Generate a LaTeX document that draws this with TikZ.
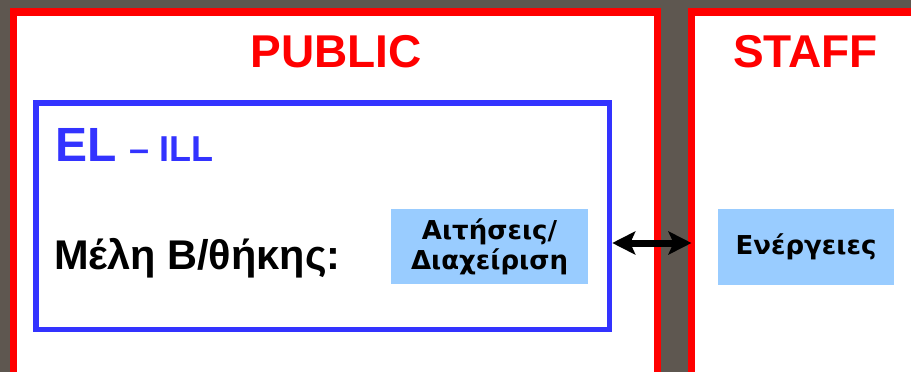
\documentclass[tikz,border=0pt]{standalone}
\usepackage{fontspec}
\setmainfont{Liberation Sans}
\newfontfamily\boxfont{DejaVu Sans}
\usetikzlibrary{arrows.meta}

\definecolor{slidebg}{HTML}{5E5750}
\definecolor{panelred}{HTML}{FF0000}
\definecolor{elblue}{HTML}{3333FF}
\definecolor{boxblue}{HTML}{99CCFF}

\tikzset{
    panel/.style={draw=panelred, line width=7.5pt, fill=white, inner sep=0pt, outer sep=0pt},
    elbox/.style={draw=elblue, line width=5.5pt, inner sep=0pt},
    taskbox/.style={fill=boxblue, inner sep=0pt, align=center, font=\boxfont\bfseries\fontsize{26}{30}\selectfont},
    biarrow/.style={line width=7pt, {Stealth[length=23pt,width=23pt,inset=5pt]}-{Stealth[length=23pt,width=23pt,inset=5pt]}}
}

\begin{document}
\begin{tikzpicture}[x=1pt, y=-1pt]
    \useasboundingbox (0,0) rectangle (911,372);
    \clip (0,0) rectangle (911,372);
    \fill[slidebg] (0,0) rectangle (911,372);
    % the two panels
    \node[panel, minimum width=644pt, minimum height=388pt] (public) at (335.5,206) {};
    \node[panel, minimum width=400pt, minimum height=388pt] (staff) at (891.5,206) {};
    \node[anchor = base, text=panelred, font=\bfseries\fontsize{46}{46}\selectfont] (publictitle) at (336,67) {PUBLIC};
    \node[anchor = base, text=panelred, font=\bfseries\fontsize{46}{46}\selectfont] (stafftitle) at (805.5,67) {STAFF};
    % EL - ILL box
    \node[elbox, minimum width=573.5pt, minimum height=226.5pt] (el) at (322.75,216.25) {};
    \node[anchor = base west, inner sep=0pt, text=elblue, font=\bfseries] (eltitle) at (55,161)
        {\fontsize{48}{48}\selectfont EL \fontsize{36}{36}\selectfont – ILL};
    \node[anchor = base west, inner sep=0pt, font=\bfseries\fontsize{41.5}{41.5}\selectfont] (members) at (54,269) {Μέλη Β/θήκης:};
    \node[taskbox, minimum width=197pt, minimum height=75pt] (requests) at (489.5,246.5) {Αιτήσεις/\\Διαχείριση};
    \node[taskbox, minimum width=176pt, minimum height=76pt] (actions) at (806,247) {Ενέργειες};
    \draw[biarrow] (el.east |- 0,243) -- (staff.west |- 0,243);
\end{tikzpicture}
\end{document}
